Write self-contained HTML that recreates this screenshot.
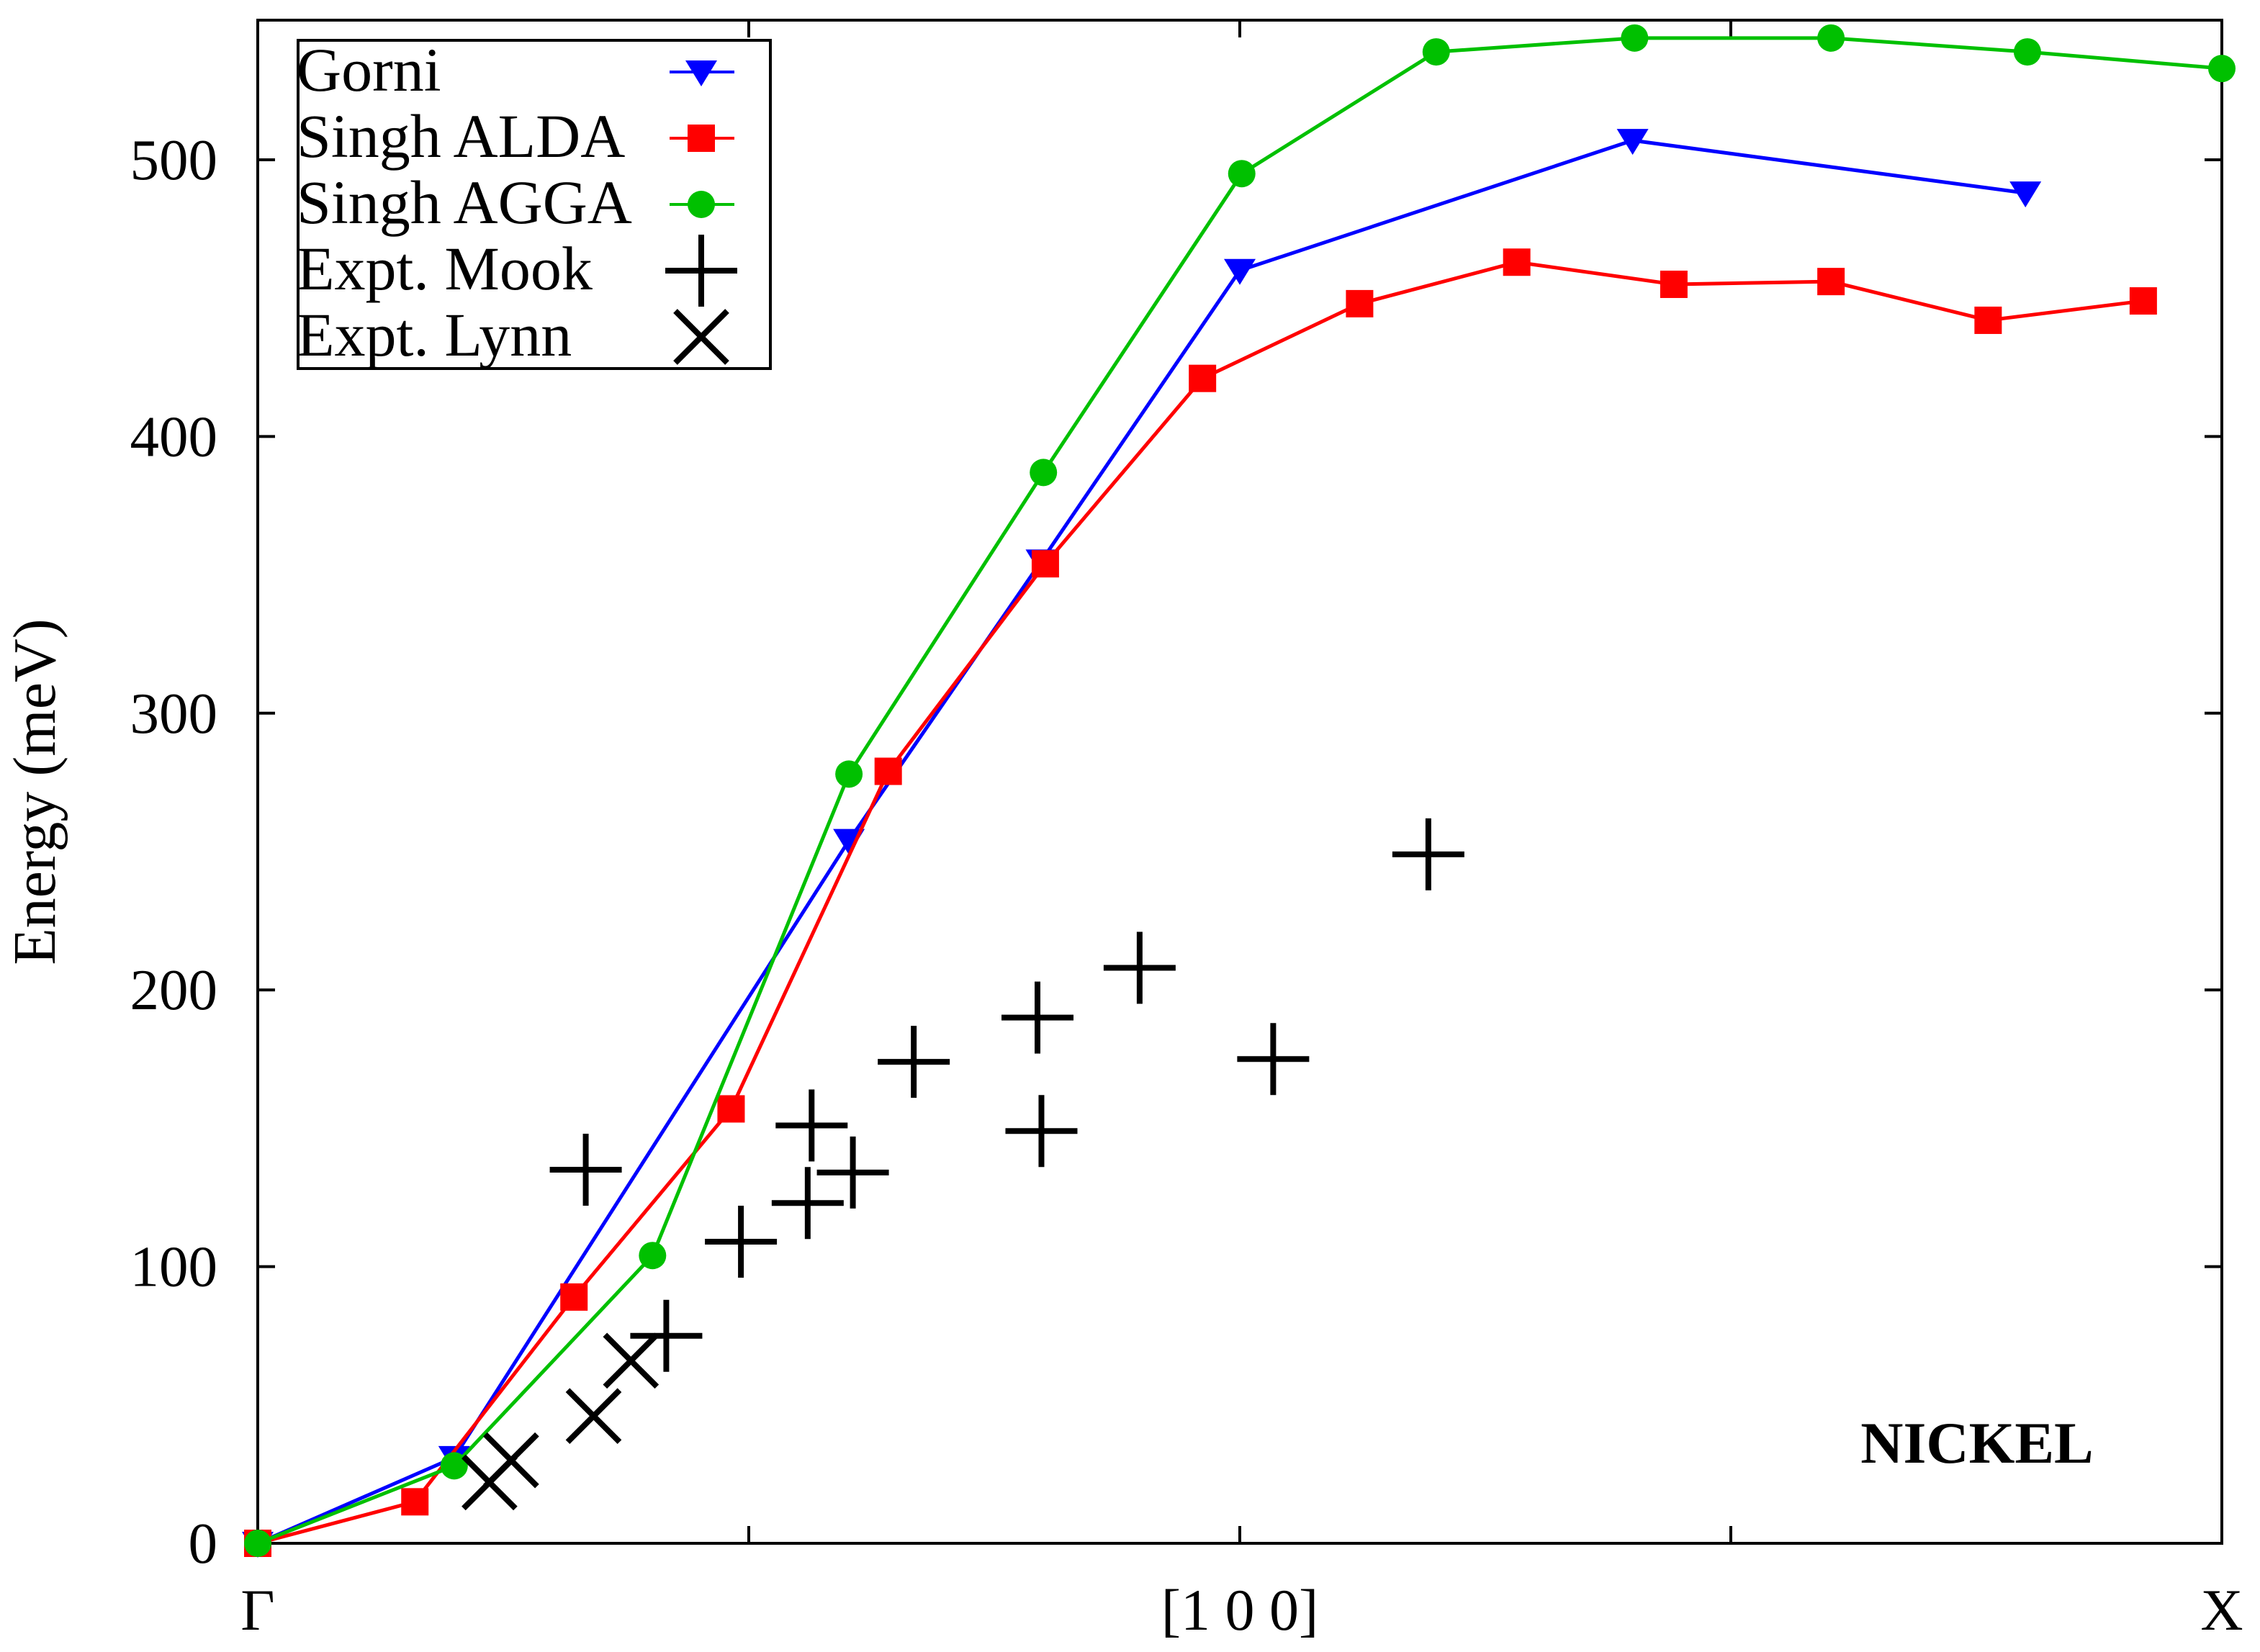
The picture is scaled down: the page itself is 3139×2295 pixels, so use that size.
<!DOCTYPE html>
<html><head><meta charset="utf-8"><style>
html,body{margin:0;padding:0;background:#fff;}
svg{display:block;}
text{font-family:"Liberation Serif",serif;fill:#000;}
</style></head><body>
<svg id="chart" width="3139" height="2295" viewBox="0 0 3139 2295" xmlns="http://www.w3.org/2000/svg">
<g id="g"></g>
</svg>
<script>
const categories = ["Γ", "[1 0 0]", "X"];
const yTicks = [0, 100, 200, 300, 400, 500];
const gorniX = [0, 0.100, 0.301, 0.399, 0.500, 0.700, 0.900];
const gorniY = [0, 31, 254, 355, 460, 507, 488];
const aldaX = [0, 0.080, 0.161, 0.241, 0.321, 0.401, 0.481, 0.561, 0.641, 0.721, 0.801, 0.881, 0.960];
const aldaY = [0, 15, 89, 157, 279, 354, 421, 448, 463, 455, 456, 442, 449];
const aggaX = [0, 0.100, 0.201, 0.301, 0.400, 0.501, 0.600, 0.701, 0.801, 0.901, 1.0];
const aggaY = [0, 28, 104, 278, 387, 495, 539, 544, 544, 539, 533];
const mookX = [0.167, 0.208, 0.246, 0.280, 0.282, 0.303, 0.334, 0.397, 0.399, 0.449, 0.517, 0.596];
const mookY = [135, 75, 109, 123, 151, 134, 174, 190, 149, 208, 175, 249];
const lynnX = [0.118, 0.129, 0.171, 0.190];
const lynnY = [22, 30, 46, 66];

const L=358,R=3086,T=28,B=2144;
function sx(v){return L+v*(R-L);}
function sy(v){return B-v*((2144-222)/500);}
const NS="http://www.w3.org/2000/svg";
const g=document.getElementById('g');
function mk(tag,attrs,parent){const e=document.createElementNS(NS,tag);for(const k in attrs)e.setAttribute(k,attrs[k]);(parent||g).appendChild(e);return e;}

const frame=mk('rect',{x:L,y:T,width:R-L,height:B-T,fill:'none',stroke:'#000','stroke-width':4});



yTicks.forEach(v=>{
  const y=sy(v);
  const t1=mk('line',{x1:L,x2:L+24,y1:y,y2:y,stroke:'#000','stroke-width':4});
  
  
  const t2=mk('line',{x1:R-24,x2:R,y1:y,y2:y,stroke:'#000','stroke-width':4});
  
  
  const tx=mk('text',{x:L-56,y:y+27,'text-anchor':'end','font-size':81});
  tx.textContent=v;
  
  
});
[0.25,0.5,0.75].forEach(f=>{
  const x=sx(f);
  const a=mk('line',{x1:x,x2:x,y1:B,y2:B-24,stroke:'#000','stroke-width':4});
  
  
  const b=mk('line',{x1:x,x2:x,y1:T,y2:T+24,stroke:'#000','stroke-width':4});
  
  
});
const catPos=[0,0.5,1];
categories.forEach((c,i)=>{
  const tx=mk('text',{x:sx(catPos[i]),y:2264,'text-anchor':'middle','font-size':82});
  tx.textContent=c;
  
  
});
const yt=mk('text',{x:0,y:0,'text-anchor':'middle','font-size':84,transform:'translate(76,1100) rotate(-90)'});
yt.textContent='Energy (meV)';


const nk=mk('text',{x:2746,y:2032,'text-anchor':'middle','font-size':82,'font-weight':'bold'});
nk.textContent='NICKEL';



function marker(type,x,y,color,parent){
  let e;
  if(type==='tri') e=mk('polygon',{points:`${x-22},${y-16} ${x+22},${y-16} ${x},${y+20}`,fill:color},parent);
  else if(type==='sq') e=mk('rect',{x:x-19,y:y-19,width:38,height:38,fill:color},parent);
  else if(type==='circ') e=mk('circle',{cx:x,cy:y,r:19,fill:color},parent);
  else if(type==='plus') e=mk('path',{d:`M${x-50},${y}H${x+50}M${x},${y-50}V${y+50}`,stroke:'#000','stroke-width':8,fill:'none'},parent);
  else if(type==='cross') e=mk('path',{d:`M${x-36},${y-36}L${x+36},${y+36}M${x-36},${y+36}L${x+36},${y-36}`,stroke:'#000','stroke-width':8,fill:'none'},parent);
  return e;
}
function series(xs,ys,color,type,name){
  const grp=mk('g',{});
  
  
  const pts=xs.map((x,i)=>sx(x)+','+sy(ys[i])).join(' ');
  const pl=mk('polyline',{points:pts,fill:'none',stroke:color,'stroke-width':5},grp);
  
  
  xs.forEach((x,i)=>{
    const m=marker(type,sx(x),sy(ys[i]),color,grp);
    
    
  });
}
function scatter(xs,ys,type,name){
  const grp=mk('g',{});
  
  
  xs.forEach((x,i)=>{
    const m=marker(type,sx(x),sy(ys[i]),'#000',grp);
    
    
  });
}
series(gorniX,gorniY,'#0000ff','tri','gorni-series');
series(aldaX,aldaY,'#ff0000','sq','singh-alda-series');
series(aggaX,aggaY,'#00c000','circ','singh-agga-series');
scatter(mookX,mookY,'plus','expt-mook-series');
scatter(lynnX,lynnY,'cross','expt-lynn-series');

const lg=mk('g',{});


const lr=mk('rect',{x:414,y:56,width:656,height:456,fill:'#fff',stroke:'#000','stroke-width':4},lg);


const entries=[['Gorni','#0000ff','tri',true],['Singh ALDA','#ff0000','sq',true],['Singh AGGA','#00c000','circ',true],['Expt. Mook','#000','plus',false],['Expt. Lynn','#000','cross',false]];
entries.forEach((e,i)=>{
  const cy=100+i*92;
  const eg=mk('g',{},lg);
  
  
  const t=mk('text',{x:412,y:cy+26,'font-size':86},eg);
  t.textContent=e[0];
  
  
  if(e[3]){const l=mk('line',{x1:930,x2:1020,y1:cy,y2:cy,stroke:e[1],'stroke-width':4},eg);
    
    }
  const m=marker(e[2],974,cy,e[1],eg);
  
  
});
</script>
</body></html>
